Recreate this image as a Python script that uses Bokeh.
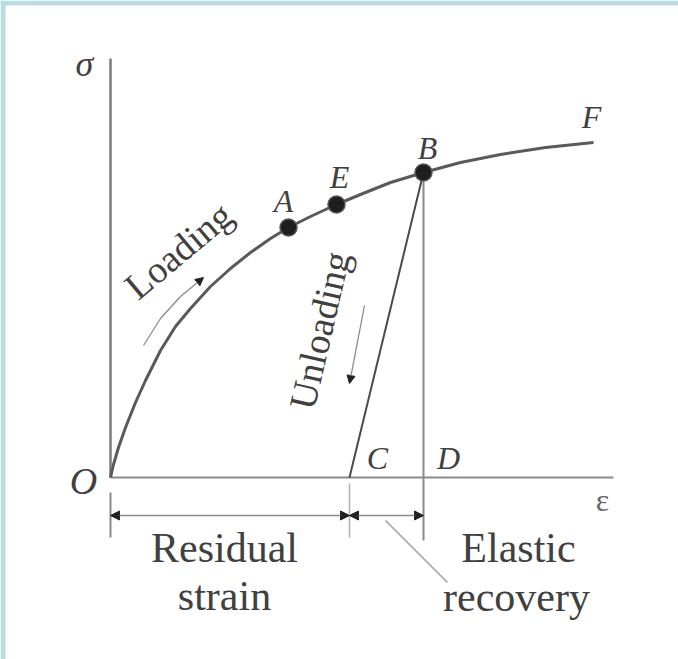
from bokeh.plotting import figure
from bokeh.models import Arrow, NormalHead, Range1d
from bokeh.core.properties import value
from bokeh.embed import file_html
from bokeh.resources import INLINE
import math

# Loading curve O -> A -> E -> B -> F (strain, stress in arbitrary units)
curve_strain = [0.0, 0.03, 0.08, 0.15, 0.25, 0.35, 0.50, 0.65, 0.80, 1.00, 1.20, 1.40,
                1.60, 1.78, 2.00, 2.26, 2.50, 2.80, 3.13, 3.50, 3.90, 4.35, 4.83]
curve_stress = [0.0, 0.13, 0.30, 0.50, 0.75, 0.97, 1.27, 1.51, 1.69, 1.91, 2.09, 2.25,
                2.39, 2.50, 2.61, 2.73, 2.83, 2.95, 3.05, 3.15, 3.23, 3.30, 3.35]

# Marked states on the curve
point_names = ["A", "E", "B"]
point_strain = [1.78, 2.26, 3.13]
point_stress = [2.50, 2.73, 3.05]

# Unloading from B ends at C (residual strain); D sits below B
strain_C = 2.39
strain_D = 3.13

# Axis extents
strain_max = 5.03
stress_max = 4.19

SERIF = value("serif")
INK = "#404040"

X0, X1 = -1.10, 5.68
Y0, Y1 = -1.82, 4.77

p = figure(width=678, height=659, output_backend="svg", toolbar_location=None,
           x_range=Range1d(X0, X1), y_range=Range1d(Y0, Y1),
           min_border=0, min_border_left=0, min_border_right=0,
           min_border_top=0, min_border_bottom=0)
p.axis.visible = False
p.grid.visible = False
p.outline_line_color = None
p.background_fill_color = "white"
p.border_fill_color = "white"

# page frame: light blue band along the top and left edges
p.quad(left=[X0, X0], right=[X0 + 0.05, X1], bottom=[Y0, Y1 - 0.05], top=[Y1, Y1],
       fill_color="#b9dde0", line_color=None)

# axes
p.line([0, 0], [0, stress_max], line_color="#7a7a7a", line_width=2.5)
p.line([0, strain_max], [0, 0], line_color="#8a8a8a", line_width=2)

# loading curve and unloading path
p.line(curve_strain, curve_stress, line_color="#5a5a5a", line_width=3, line_join="round")
p.line([point_strain[2], strain_C], [point_stress[2], 0], line_color="#4a4a4a", line_width=2)
p.line([strain_D, strain_D], [point_stress[2], -0.63], line_color="#8a8a8a", line_width=2)

# extension lines for the dimensions
p.line([0, 0], [-0.15, -0.60], line_color="#8a8a8a", line_width=2)
p.line([strain_C, strain_C], [-0.06, -0.60], line_color="#b0b0b0", line_width=1.5)

# dimension arrows
dim_y = -0.38
for x0, x1 in [(0, strain_C), (strain_C, strain_D)]:
    p.add_layout(Arrow(x_start=x0, y_start=dim_y, x_end=x1, y_end=dim_y,
                       line_color="#8a8a8a", line_width=1.5,
                       start=NormalHead(size=9, fill_color="#222", line_color="#222"),
                       end=NormalHead(size=9, fill_color="#222", line_color="#222")))

# leader to "Elastic recovery"
p.line([2.75, 3.37], [-0.43, -1.05], line_color="#9a9a9a", line_width=1.5)

# direction arrows for loading / unloading
load_x = [0.33, 0.50, 0.70, 0.93]
load_y = [1.32, 1.59, 1.81, 2.00]
p.line(load_x[:-1], load_y[:-1], line_color="#8a8a8a", line_width=1.3)
p.add_layout(Arrow(x_start=load_x[-2], y_start=load_y[-2], x_end=load_x[-1], y_end=load_y[-1],
                   line_color="#8a8a8a", line_width=1.3,
                   end=NormalHead(size=8, fill_color="#222", line_color="#222")))
p.add_layout(Arrow(x_start=2.54, y_start=1.72, x_end=2.39, y_end=0.94,
                   line_color="#8a8a8a", line_width=1.3,
                   end=NormalHead(size=8, fill_color="#222", line_color="#222")))

# state markers
p.scatter(point_strain, point_stress, size=17, fill_color="#1e1e1e", line_color="#555", line_width=1.5)

# letter labels
label_dx = [-0.05, 0.03, 0.04]
label_dy = [0.27, 0.28, 0.25]
p.text([sx + dx for sx, dx in zip(point_strain, label_dx)],
       [sy + dy for sy, dy in zip(point_stress, label_dy)],
       text=point_names, text_font=SERIF, text_font_style="italic",
       text_font_size="32px", text_color=INK, text_align="center", text_baseline="alphabetic")

p.text([curve_strain[-1] - 0.02, strain_C + 0.28, strain_D + 0.25],
       [curve_stress[-1] + 0.26, 0.20, 0.20],
       text=["F", "C", "D"], text_font=SERIF, text_font_style="italic",
       text_font_size="32px", text_color=INK, text_align="center", text_baseline="alphabetic")

p.text([-0.27], [-0.03], text=["O"], text_font=SERIF, text_font_style="italic",
       text_font_size="38px", text_color=INK, text_align="center", text_baseline="alphabetic")
p.text([-0.26], [4.14], text=["σ"], text_font=SERIF, text_font_style="italic",
       text_font_size="36px", text_color=INK, text_align="center", text_baseline="alphabetic")
p.text([4.92], [-0.22], text=["ε"], text_font=SERIF,
       text_font_size="32px", text_color="#666", text_align="center", text_baseline="alphabetic")

# rotated process labels
p.text([0.68], [2.27], text=["Loading"], angle=math.radians(40), text_font=SERIF,
       text_font_size="38px", text_color=INK, text_align="center", text_baseline="middle")
p.text([2.09], [1.47], text=["Unloading"], angle=math.radians(77), text_font=SERIF,
       text_font_size="38px", text_color=INK, text_align="center", text_baseline="middle")

# dimension captions
p.text([1.14, 1.14, 4.08, 4.06], [-0.70, -1.18, -0.70, -1.19],
       text=["Residual", "strain", "Elastic", "recovery"], text_font=SERIF,
       text_font_size="42px", text_color=INK, text_align="center", text_baseline="alphabetic")

open("out.html", "w").write(file_html(p, INLINE))
